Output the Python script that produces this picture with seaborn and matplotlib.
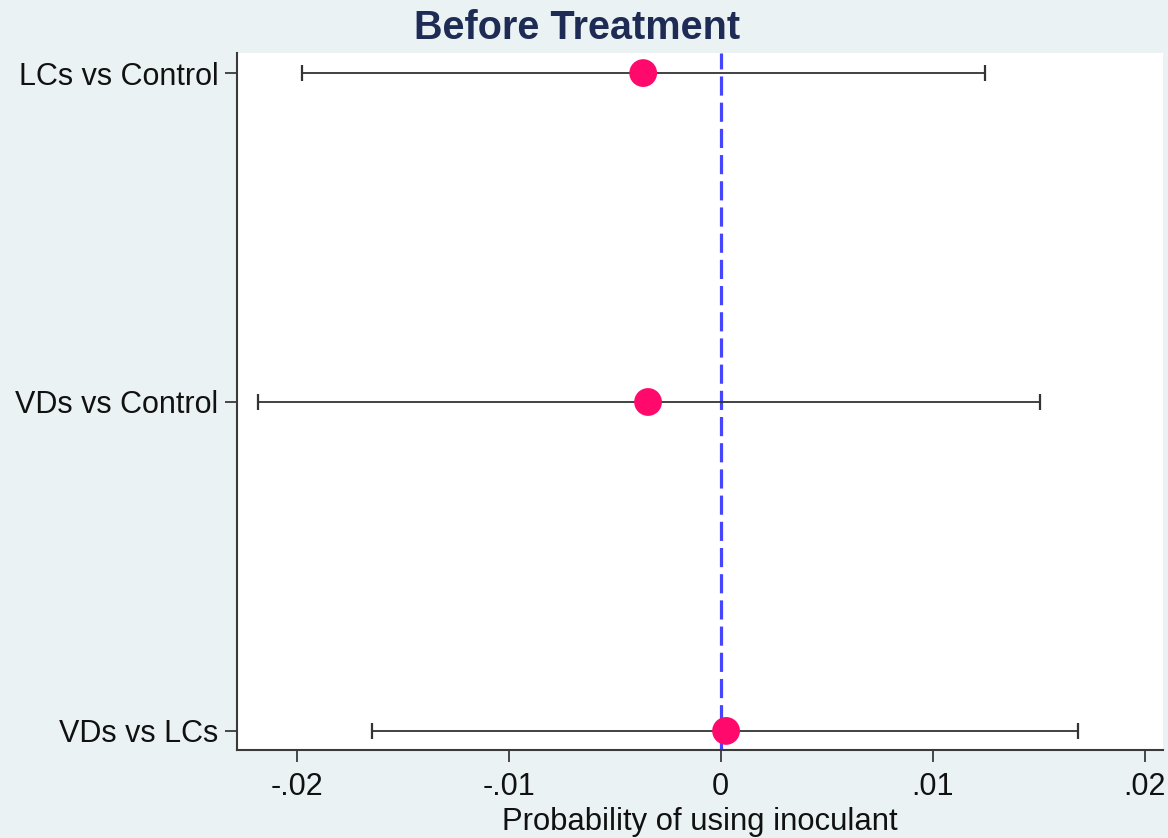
import matplotlib
matplotlib.use("Agg")
import matplotlib.pyplot as plt
import seaborn as sns
import pandas as pd

# Marginal effects with 95% confidence intervals
comparisons = ["LCs vs Control", "VDs vs Control", "VDs vs LCs"]
estimates = [-0.00365, -0.00342, 0.00026]
ci_low = [-0.01976, -0.02182, -0.01644]
ci_high = [0.01248, 0.01507, 0.01686]
x_ticks = [-0.02, -0.01, 0.0, 0.01, 0.02]
x_tick_labels = ["-.02", "-.01", "0", ".01", ".02"]

df = pd.DataFrame({"comparison": comparisons, "estimate": estimates,
                   "lo": ci_low, "hi": ci_high})
df["pos"] = range(len(df))

sns.set_theme(style="white")
plt.rcParams["font.family"] = ["Liberation Sans", "DejaVu Sans"]

bg = "#EAF2F3"
fig = plt.figure(figsize=(11.68, 8.38), dpi=100, facecolor=bg)
ax = fig.add_axes([237 / 1168, 88 / 838, 926 / 1168, 697 / 838])
ax.set_facecolor("white")

# Reference line at zero
ax.axvline(0, color="#4646FF", lw=2.3, dashes=(6, 2.2), zorder=1)

# Confidence intervals
ax.errorbar(df["estimate"], df["pos"],
            xerr=[df["estimate"] - df["lo"], df["hi"] - df["estimate"]],
            fmt="none", ecolor="#333333", elinewidth=1.3, capsize=6,
            capthick=1.6, zorder=2)

# Point estimates
sns.scatterplot(data=df, x="estimate", y="pos", ax=ax, color="#FF0A6C",
                s=400, edgecolor="none", zorder=3, legend=False)

ax.set_xlim(-0.02281, 0.02087)
ax.set_ylim(2.058, -0.061)
ax.set_yticks(df["pos"])
ax.set_yticklabels(df["comparison"])
ax.set_xticks(x_ticks)
ax.set_xticklabels(x_tick_labels)
ax.set_ylabel("")
ax.set_xlabel("Probability of using inoculant", fontsize=22.3, color="#111111",
              va="baseline")
ax.xaxis.set_label_coords(0.5, -80 / 697)

for side in ["top", "right"]:
    ax.spines[side].set_visible(False)
for side in ["left", "bottom"]:
    ax.spines[side].set_color("#3A3A3A")
    ax.spines[side].set_linewidth(1.5)

ax.tick_params(axis="both", which="major", length=8.8, width=1.3,
               color="#3A3A3A", labelsize=22, labelcolor="#111111",
               left=True, bottom=True)
ax.tick_params(axis="x", pad=7)
ax.tick_params(axis="y", pad=4.5)

fig.text(0.494, 1 - 39 / 838, "Before Treatment", ha="center", va="baseline",
         fontsize=28.5, fontweight="bold", color="#1E2B55")

fig.savefig("out.png", dpi=100, facecolor=bg)
